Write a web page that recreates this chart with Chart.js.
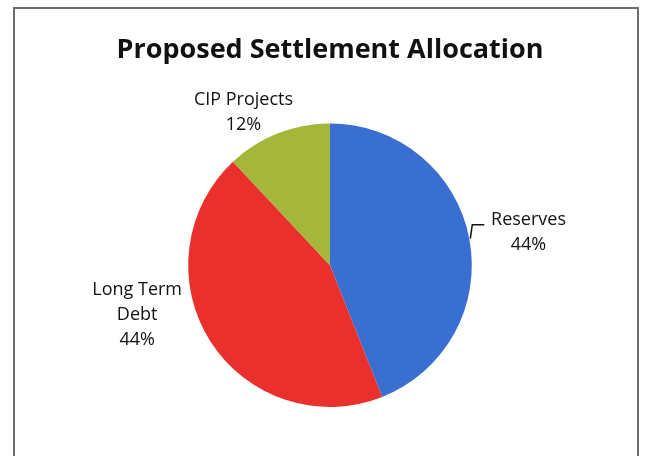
<!DOCTYPE html>
<html>
<head>
<meta charset="utf-8">
<script src="https://cdn.jsdelivr.net/npm/chart.js@4.4.1/dist/chart.umd.min.js"></script>
<style>
  html, body { margin: 0; padding: 0; background: #fff; }
  #wrap { position: relative; width: 650px; height: 456px; overflow: hidden; }
  #frame {
    position: absolute; left: 13px; top: 7px; width: 626px; height: 470px;
    border: 2px solid #6e6e6e; box-sizing: border-box;
  }
  canvas { position: absolute; left: 0; top: 0; }
</style>
</head>
<body>
<div id="wrap">
  <div id="frame"></div>
  <canvas id="chartSettlement" width="650" height="456"></canvas>
</div>
<script>
// datos del gráfico
const categorias = ['Reserves', 'Long Term Debt', 'CIP Projects'];
const porcentajes = [44, 44, 12];
const colores = ['#3a6fd2', '#ea302c', '#a4b73a'];
// líneas de cada etiqueta (texto)
const etiquetas = [['Reserves', '44%'], ['Long Term', 'Debt', '44%'], ['CIP Projects', '12%']];

// donde va cada etiqueta, en radios desde el centro del pie
const posEtiquetas = [
  { fx: 1.40, fy: -0.23, leader: true },
  { fx: -1.36, fy: 0.35 },
  { fx: -0.61, fy: -1.08 }
];

const labelsPlugin = {
  id: 'pieLabels',
  afterDatasetsDraw(chart) {
    const ctx = chart.ctx;
    const meta = chart.getDatasetMeta(0);
    ctx.save();
    ctx.font = '18px "Open Sans", sans-serif';
    ctx.fillStyle = '#111';
    ctx.textAlign = 'center';
    ctx.textBaseline = 'middle';
    meta.data.forEach((arc, i) => {
      const { x, y, outerRadius, startAngle, endAngle } = arc.getProps(['x', 'y', 'outerRadius', 'startAngle', 'endAngle'], true);
      const p = posEtiquetas[i];
      const lx = x + p.fx * outerRadius;
      const ly = y + p.fy * outerRadius;
      const lines = etiquetas[i];
      const lh = 25;
      lines.forEach((t, k) => {
        ctx.fillText(t, lx, ly + (k - (lines.length - 1) / 2) * lh);
      });
      if (p.leader) {
        // linea guía pequeña hasta el borde del arco
        const mid = (startAngle + endAngle) / 2;
        const ex = x + Math.cos(mid) * outerRadius + 1;
        const ey = y + Math.sin(mid) * outerRadius;
        ctx.strokeStyle = '#111';
        ctx.lineWidth = 1.5;
        ctx.beginPath();
        ctx.moveTo(ex, ey);
        ctx.lineTo(ex + 2, ey - 14);
        ctx.lineTo(ex + 14, ey - 14);
        ctx.stroke();
      }
    });
    ctx.restore();
  }
};

const ctx = document.getElementById('chartSettlement');
new Chart(ctx, {
  type: 'pie',
  data: {
    labels: categorias,
    datasets: [{
      data: porcentajes,
      backgroundColor: colores,
      borderWidth: 0
    }]
  },
  options: {
    responsive: false,
    animation: false,
    layout: { padding: { left: 10, right: 0, top: 0, bottom: 49 } },
    plugins: {
      legend: { display: false },
      tooltip: { enabled: false },
      title: {
        display: true,
        text: 'Proposed Settlement Allocation',
        color: '#111',
        font: { family: '"Open Sans", sans-serif', size: 27, weight: 'bold' },
        padding: { top: 34, bottom: 57 }
      }
    }
  },
  plugins: [labelsPlugin]
});
</script>
</body>
</html>
